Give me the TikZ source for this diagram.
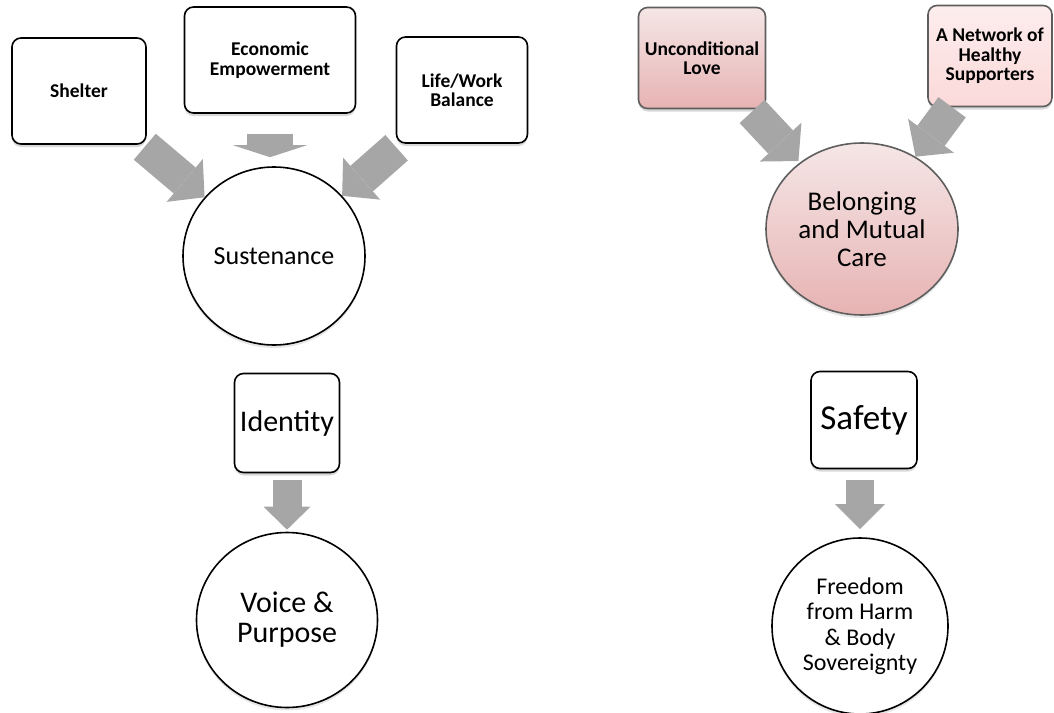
\documentclass[tikz,border=0pt]{standalone}
\usepackage{fontspec}
\setmainfont{Carlito}
\usetikzlibrary{arrows.meta,shapes.geometric,shadows}

\definecolor{pfeilgrau}{HTML}{A6A6A6}
\definecolor{rosarand}{HTML}{5E5E5E}
\definecolor{rosaA}{HTML}{F5E6E6}
\definecolor{rosaB}{HTML}{E7B3B3}
\definecolor{hellA}{HTML}{FDEDED}
\definecolor{hellB}{HTML}{FBD9D9}

\begin{document}
\begin{tikzpicture}[x=1pt, y=-1pt,
        kasten/.style={draw, line width=1.6pt, rounded corners=9pt, fill=white,
            inner sep=0pt, align=center,
            drop shadow={opacity=.3, shadow xshift=0pt, shadow yshift=-3pt}},
        klein/.style={font=\bfseries\fontsize{19.5}{19.5}\selectfont},
        kreis/.style={ellipse, draw, line width=1.6pt, fill=white,
            inner sep=0pt, align=center,
            drop shadow={opacity=.2, shadow xshift=0pt, shadow yshift=-3pt}},
        rosa/.style={draw=rosarand, top color=rosaA, bottom color=rosaB},
        pfeil/.style n args={3}{draw=pfeilgrau, line width=#1,
            -{Triangle[width=#2, length=#3, line width=0pt]}}
        ]
            \useasboundingbox (0,0) rectangle (1054,712);

            % Kaesten links
            \node[kasten, klein, minimum width=134pt, minimum height=106pt]
                (shelter) at (79,91) {Shelter};
            \node[kasten, klein, minimum width=171pt, minimum height=106pt]
                (economic) at (270,60) {Economic\\Empowerment};
            \node[kasten, klein, minimum width=131pt, minimum height=106pt]
                (balance) at (462,90) {Life/Work\\Balance};
            \node[kasten, minimum width=105pt, minimum height=99pt,
                font=\fontsize{30}{30}\selectfont]
                (identity) at (287,423) {Identity};

            % Kreise links
            \node[kreis, minimum width=182pt, minimum height=178pt,
                font=\fontsize{26}{30}\selectfont]
                (sustenance) at (274,256) {Sustenance};
            \node[kreis, minimum width=181pt, minimum height=175pt,
                font=\fontsize{30}{30}\selectfont]
                (voice) at (287,620) {Voice \&\\Purpose};

            % Kaesten rechts
            \node[kasten, klein, rosa, minimum width=127pt, minimum height=101pt]
                (love) at (702,58) {Unconditional\\Love};
            \node[kasten, klein, rosa, top color=hellA, bottom color=hellB,
                minimum width=124pt, minimum height=101pt]
                (network) at (990,56) {A Network of\\Healthy\\Supporters};
            \node[kasten, minimum width=106pt, minimum height=97pt,
                font=\fontsize{35}{35}\selectfont]
                (safety) at (864,420) {Safety};

            % Kreise rechts
            \node[kreis, rosa, minimum width=192pt, minimum height=172pt,
                font=\fontsize{27}{28}\selectfont]
                (belonging) at (862,229) {Belonging\\and Mutual\\Care};
            \node[kreis, minimum width=176pt, minimum height=176pt,
                font=\fontsize{24}{25.5}\selectfont]
                (freedom) at (860,626) {Freedom\\from Harm\\\& Body\\Sovereignty};

            % Pfeile
            \draw[pfeil={34pt}{56pt}{26pt}, shorten <=3pt] (shelter) -- (sustenance);
            \draw[pfeil={34pt}{56pt}{26pt}, shorten <=6pt] (balance) -- (sustenance);
            \draw[pfeil={46pt}{74pt}{12pt}, shorten <=20pt, shorten >=9pt]
                (economic.south) -- (economic.south |- sustenance.north);
            \draw[pfeil={29pt}{47pt}{23pt}, shorten <=7pt, shorten >=2pt]
                (identity.south) -- (voice.north);
            \draw[pfeil={34pt}{57pt}{26pt}, shorten <=3pt, shorten >=2pt] (love) -- (belonging);
            \draw[pfeil={34pt}{57pt}{26pt}] (network) -- (belonging);
            \draw[pfeil={28pt}{50pt}{25pt}, shorten <=11pt, shorten >=8pt]
                (freedom.north |- safety.south) -- (freedom.north);

        \end{tikzpicture}
\end{document}
